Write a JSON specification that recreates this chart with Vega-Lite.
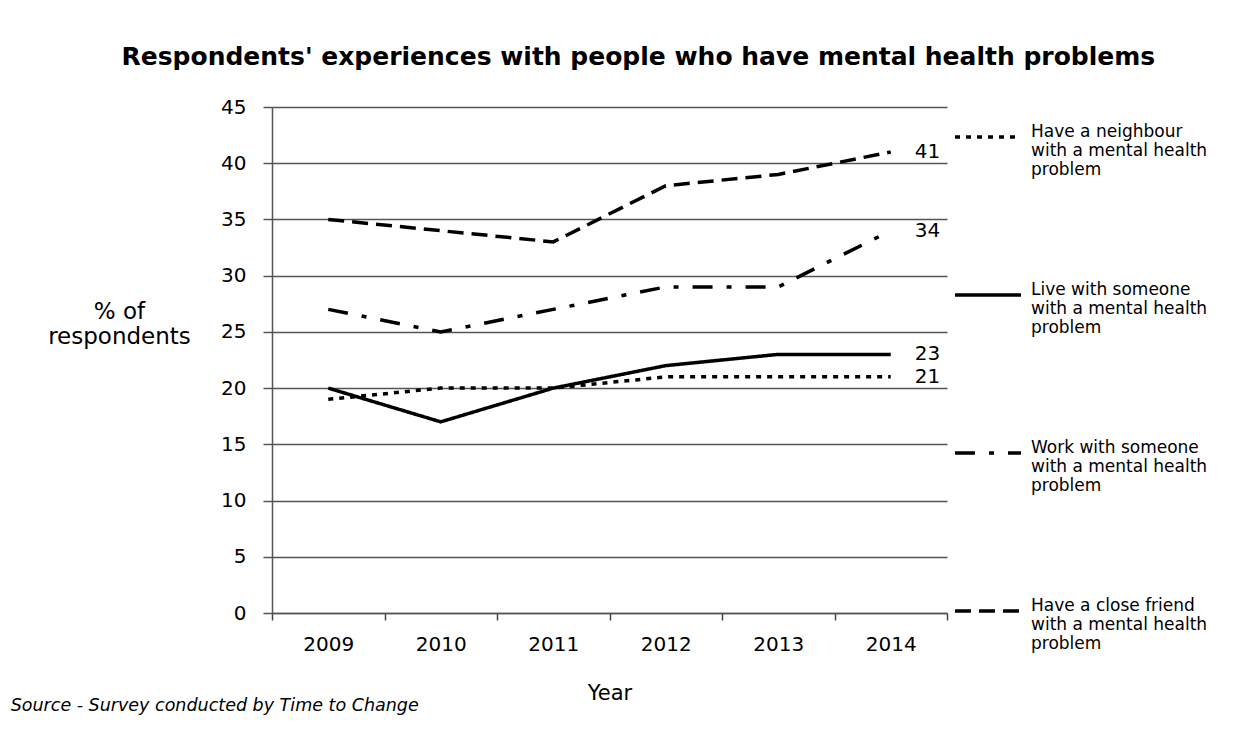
{
  "$schema": "https://vega.github.io/schema/vega-lite/v6.json",
  "background": "white",
  "padding": {"left": 10, "top": 45, "right": 5, "bottom": 5},
  "title": {
    "text": "Respondents' experiences with people who have mental health problems",
    "font": "DejaVu Sans",
    "fontSize": 25,
    "fontWeight": "bold",
    "color": "#000000",
    "anchor": "middle",
    "dx": 29,
    "offset": 27
  },
  "datasets": {
    "survey": [
      {"Year": "2009", "Series": "Have a neighbour with a mental health problem", "Value": 19},
      {"Year": "2010", "Series": "Have a neighbour with a mental health problem", "Value": 20},
      {"Year": "2011", "Series": "Have a neighbour with a mental health problem", "Value": 20},
      {"Year": "2012", "Series": "Have a neighbour with a mental health problem", "Value": 21},
      {"Year": "2013", "Series": "Have a neighbour with a mental health problem", "Value": 21},
      {"Year": "2014", "Series": "Have a neighbour with a mental health problem", "Value": 21},
      {"Year": "2009", "Series": "Live with someone with a mental health problem", "Value": 20},
      {"Year": "2010", "Series": "Live with someone with a mental health problem", "Value": 17},
      {"Year": "2011", "Series": "Live with someone with a mental health problem", "Value": 20},
      {"Year": "2012", "Series": "Live with someone with a mental health problem", "Value": 22},
      {"Year": "2013", "Series": "Live with someone with a mental health problem", "Value": 23},
      {"Year": "2014", "Series": "Live with someone with a mental health problem", "Value": 23},
      {"Year": "2009", "Series": "Work with someone with a mental health problem", "Value": 27},
      {"Year": "2010", "Series": "Work with someone with a mental health problem", "Value": 25},
      {"Year": "2011", "Series": "Work with someone with a mental health problem", "Value": 27},
      {"Year": "2012", "Series": "Work with someone with a mental health problem", "Value": 29},
      {"Year": "2013", "Series": "Work with someone with a mental health problem", "Value": 29},
      {"Year": "2014", "Series": "Work with someone with a mental health problem", "Value": 34},
      {"Year": "2009", "Series": "Have a close friend with a mental health problem", "Value": 35},
      {"Year": "2010", "Series": "Have a close friend with a mental health problem", "Value": 34},
      {"Year": "2011", "Series": "Have a close friend with a mental health problem", "Value": 33},
      {"Year": "2012", "Series": "Have a close friend with a mental health problem", "Value": 38},
      {"Year": "2013", "Series": "Have a close friend with a mental health problem", "Value": 39},
      {"Year": "2014", "Series": "Have a close friend with a mental health problem", "Value": 41}
    ]
  },
  "vconcat": [
    {
      "width": 675,
      "height": 506,
      "title": {
        "text": "Source - Survey conducted by Time to Change",
        "orient": "bottom",
        "anchor": "start",
        "frame": "bounds",
        "font": "DejaVu Sans",
        "fontStyle": "italic",
        "fontWeight": "normal",
        "fontSize": 17.5,
        "color": "#000000",
        "dx": -37,
        "offset": -6
      },
      "data": {"name": "survey"},
      "layer": [
        {
          "mark": {"type": "line", "color": "#000000", "strokeWidth": 3.5, "strokeJoin": "miter"},
          "encoding": {
            "x": {
              "field": "Year",
              "type": "ordinal",
              "scale": {"type": "band", "paddingInner": 0, "paddingOuter": 0},
              "axis": {
                "title": "Year",
                "titleFont": "DejaVu Sans",
                "titleFontSize": 21,
                "titleFontWeight": "normal",
                "titleColor": "#000000",
                "titlePadding": 28,
                "labelFont": "DejaVu Sans",
                "labelFontSize": 20,
                "labelColor": "#000000",
                "labelAngle": 0,
                "labelPadding": 14,
                "tickBand": "extent",
                "tickSize": 7,
                "tickColor": "#444444",
                "tickWidth": 1.5,
                "domainColor": "#555555",
                "domainWidth": 1.5,
                "grid": false
              }
            },
            "y": {
              "field": "Value",
              "type": "quantitative",
              "scale": {"domain": [0, 45], "nice": false},
              "axis": {
                "values": [0, 5, 10, 15, 20, 25, 30, 35, 40, 45],
                "title": ["% of", "respondents"],
                "titleFont": "DejaVu Sans",
                "titleFontSize": 23,
                "titleFontWeight": "normal",
                "titleColor": "#000000",
                "titleAngle": 0,
                "titleAlign": "center",
                "titleBaseline": "middle",
                "titleX": -153,
                "titleY": 204,
                "titleLineHeight": 25,
                "labelFont": "DejaVu Sans",
                "labelFontSize": 20,
                "labelColor": "#000000",
                "labelPadding": 17,
                "tickSize": 9,
                "tickColor": "#555555",
                "tickWidth": 1.5,
                "domainColor": "#555555",
                "domainWidth": 1.5,
                "grid": true,
                "gridColor": "#555555",
                "gridWidth": 1.5
              }
            },
            "detail": {"field": "Series"},
            "strokeDash": {
              "field": "Series",
              "type": "nominal",
              "scale": {
                "domain": [
                  "Have a neighbour with a mental health problem",
                  "Live with someone with a mental health problem",
                  "Work with someone with a mental health problem",
                  "Have a close friend with a mental health problem"
                ],
                "range": [[5, 6], [1, 0], [20, 14, 5, 14], [16, 8]]
              },
              "legend": {
                "title": null,
                "orient": "none",
                "legendX": 681,
                "legendY": -5,
                "direction": "vertical",
                "symbolType": "stroke",
                "symbolSize": 4356,
                "symbolStrokeWidth": 3.5,
                "symbolStrokeColor": "#000000",
                "labelExpr": "split(replace(replace(datum.label, ' with a', '|with a'), ' problem', '|problem'), '|')",
                "labelFont": "DejaVu Sans",
                "labelFontSize": 17,
                "labelColor": "#000000",
                "labelBaseline": "alphabetic",
                "labelOffset": 8,
                "labelLimit": 0,
                "rowPadding": 82
              }
            }
          }
        },
        {
          "transform": [{"filter": "datum.Year == '2014'"}],
          "mark": {"type": "text", "align": "left", "baseline": "middle", "dx": 24, "font": "DejaVu Sans", "fontSize": 20, "color": "#000000"},
          "encoding": {
            "x": {"field": "Year", "type": "ordinal"},
            "y": {"field": "Value", "type": "quantitative"},
            "text": {"field": "Value", "type": "quantitative"}
          }
        }
      ]
    }
  ],
  "config": {
    "view": {"stroke": null},
    "concat": {"spacing": 0},
    "text": {"lineHeight": 20}
  }
}
